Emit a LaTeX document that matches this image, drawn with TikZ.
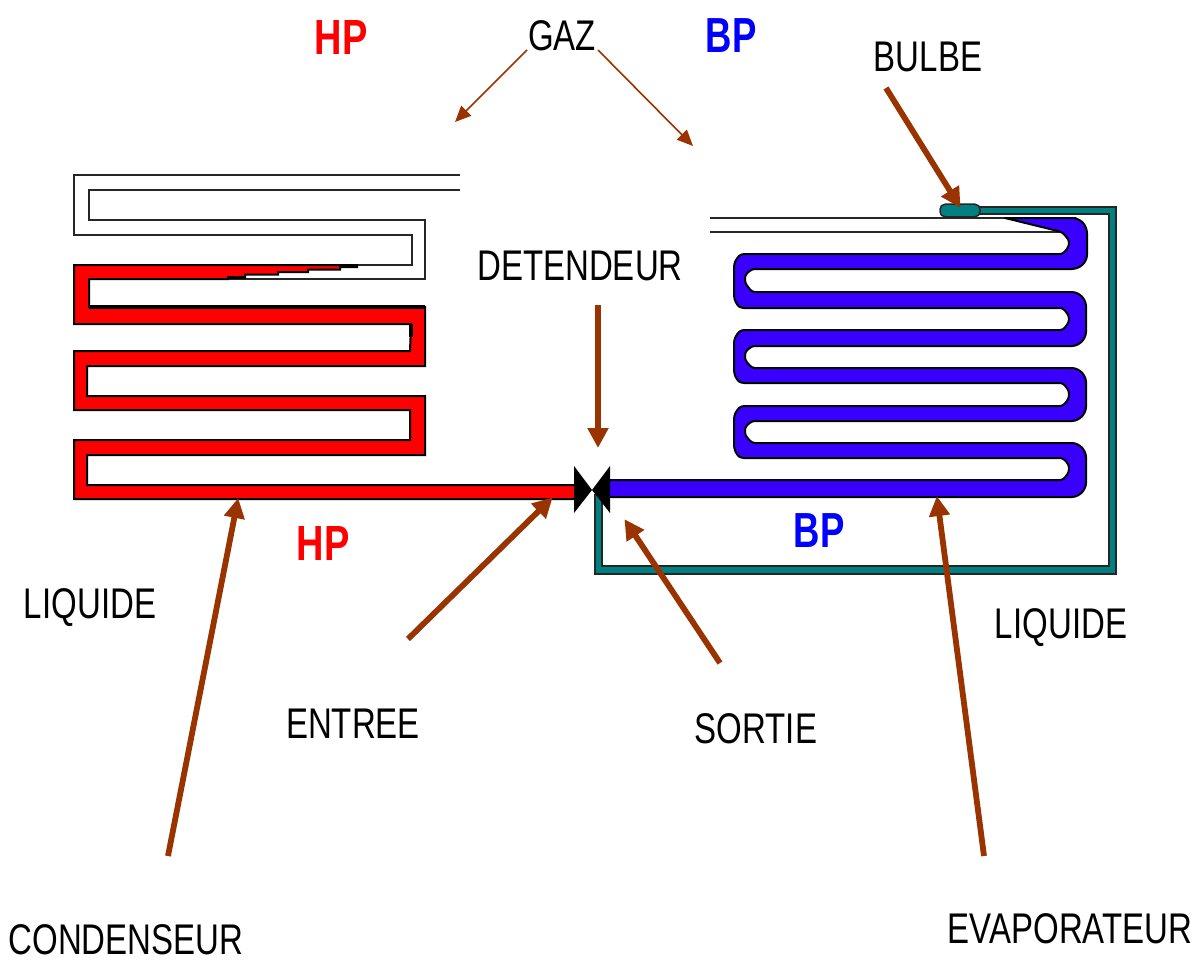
\documentclass[tikz,border=0pt]{standalone}
\usepackage{fontspec}
\setmainfont{Liberation Sans}
\usetikzlibrary{arrows.meta,shapes.geometric}
\definecolor{arrowbrown}{HTML}{993300}
\definecolor{tealpipe}{HTML}{008080}
\definecolor{bluepipe}{HTML}{3A00FF}
\definecolor{redpipe}{HTML}{FF0000}
\newcommand{\tallcaps}[1]{\scalebox{1}[1.3]{#1}}
\newcommand{\tallerblue}[1]{\scalebox{1}[1.35]{#1}}
\tikzset{
  lab/.style={inner sep=0pt,font=\fontsize{33}{36}\selectfont,text=black},
  hplab/.style={inner sep=0pt,font=\fontsize{38}{40}\selectfont,text=red},
  bplab/.style={inner sep=0pt,font=\fontsize{36.5}{40}\selectfont,text=blue},
  tube/.style={draw=black!85,line width=2pt,line join=miter},
  pipe/.style={draw=black,line width=2pt,line join=round},
  bigarrow/.style={draw=arrowbrown,line width=5.8pt,-{Triangle[length=20pt,width=20pt]},shorten >=-1pt},
  thinarrow/.style={draw=arrowbrown,line width=1.6pt,-{Triangle[length=16pt,width=14pt]}}
}
\begin{document}
\begin{tikzpicture}[x=1pt,y=-1pt]
\useasboundingbox (0,0) rectangle (1204,960);
\fill[white] (0,0) rectangle (1204,960);
% condenser: white part
\draw[tube] (460,175) -- (74,175) -- (74,235) -- (412,235) -- (412,265) -- (357,265);
\draw[tube] (460,190) -- (89,190) -- (89,220) -- (425,220) -- (425,279) -- (228,279);
% condenser: red part
\draw[pipe,fill=redpipe,line join=miter] (74,265) -- (357,265) -- (357,267) -- (340,267) -- (340,269.5) -- (308,269.5) -- (308,272) -- (278,272) -- (278,274.5) -- (245,274.5) -- (245,277) -- (228,277) -- (228,279) -- (89,279) -- (89,307) -- (425,307) -- (425,366) -- (87,366) -- (87,396) -- (425,396) -- (425,455) -- (87,455) -- (87,485) -- (576,485) -- (576,499) -- (74,499) -- (74,440) -- (410,440) -- (410,410) -- (74,410) -- (74,351) -- (410,351) -- (411,324) -- (74,324) -- cycle;
\fill[black] (89,305) rectangle (425,309);
\fill[black] (409,324) rectangle (413,337);
\fill[black] (228,275.5) rectangle (245,278.5);
\fill[black] (340,264.5) rectangle (357,268);
% capillary
\draw[pipe,draw=black!85,fill=tealpipe,line join=miter] (975,207) -- (1116,207) -- (1116,574) -- (595,574) -- (595,495) -- (602,495) -- (602,566) -- (1109,566) -- (1109,214) -- (975,214) -- cycle;
% evaporator white lines
\draw[tube] (710,218) -- (1005,218);
\draw[tube] (710,232) -- (1062,232);
% evaporator blue
\draw[pipe,fill=bluepipe,rounded corners=3pt] (608,480) -- (1063,480) -- (1069,472) -- (1069,465) -- (1063,458) -- (741,458) -- (737,455) -- (734,448) -- (734,416) -- (737,410) -- (741,406) -- (1063,406) -- (1069,398) -- (1069,391) -- (1063,383) -- (741,383) -- (737,380) -- (734,373) -- (734,340) -- (737,334) -- (741,330) -- (1063,330) -- (1069,322) -- (1069,316) -- (1063,308) -- (741,308) -- (737,305) -- (734,298) -- (734,264) -- (737,258) -- (741,254) -- (1063,254) -- (1069,246) -- (1069,240) -- (1062,232) [sharp corners] -- (1005,218) -- (1075,218) [rounded corners=3pt] -- (1083,222) -- (1087,230) -- (1087,258) -- (1083,265) -- (1075,269) -- (752,269) -- (745,275) -- (745,283) -- (752,292) -- (1075,292) -- (1082,296) -- (1086,303) -- (1086,335) -- (1082,342) -- (1075,346) -- (752,346) -- (745,352) -- (745,360) -- (752,368) -- (1075,368) -- (1082,372) -- (1086,379) -- (1086,410) -- (1082,417) -- (1075,421) -- (752,421) -- (745,427) -- (745,435) -- (752,443) -- (1075,443) -- (1082,447) -- (1086,454) -- (1086,486) -- (1082,493) -- (1075,497) -- (608,497) -- cycle;
% bulb
\node[rectangle,rounded corners=5pt,draw=black!85,fill=tealpipe,line width=1.5pt,minimum width=40pt,minimum height=12.5pt,inner sep=0pt] (bulb) at (960,210.5) {};
% valve
\fill[black] (574,466) -- (574,513) -- (592,490) -- cycle;
\fill[black] (610,466) -- (610,513) -- (592,490) -- cycle;
% labels
\node[hplab] (hp1) at (341,38) {\tallcaps{\bfseries HP}};
\node[bplab] (bp1) at (731,36) {\tallerblue{\bfseries BP}};
\node[lab] (gaz) at (562,36) {\tallcaps{GAZ}};
\node[lab] (bulbe) at (928,57) {\tallcaps{BULBE}};
\node[lab] (det) at (580,266) {\tallcaps{DETENDEUR}};
\node[hplab] (hp2) at (323,544) {\tallcaps{\bfseries HP}};
\node[bplab] (bp2) at (819,531) {\tallerblue{\bfseries BP}};
\node[lab] (liq1) at (90,608) {\tallcaps{LIQUIDE}};
\node[lab] (liq2) at (1061,628) {\tallcaps{LIQUIDE}};
\node[lab] (ent) at (353,724) {\tallcaps{ENTREE}};
\node[lab] (sor) at (756,729) {\tallcaps{SORTIE}};
\node[lab] (con) at (126,940) {\tallcaps{CONDENSEUR}};
\node[lab] (eva) at (1070,929) {\tallcaps{EVAPORATEUR}};
% arrow ends
\coordinate (g1s) at (527,50); \coordinate (g1e) at (455,122);
\coordinate (g2s) at (598,50); \coordinate (g2e) at (693,146);
\coordinate (bs) at (886,88);  \coordinate (be) at (960,207);
\coordinate (ds) at (598,305); \coordinate (de) at (598,447);
\coordinate (es) at (408,639); \coordinate (ee) at (552,498);
\coordinate (ss) at (720,663); \coordinate (se) at (625,520);
\coordinate (cs) at (168,856); \coordinate (ce) at (238,499);
\coordinate (vs) at (984,856); \coordinate (ve) at (937,497);
\draw[thinarrow] (g1s) -- (g1e);
\draw[thinarrow] (g2s) -- (g2e);
\draw[bigarrow] (bs) -- (be);
\draw[bigarrow] (ds) -- (de);
\draw[bigarrow] (es) -- (ee);
\draw[bigarrow] (ss) -- (se);
\draw[bigarrow] (cs) -- (ce);
\draw[bigarrow] (vs) -- (ve);
\end{tikzpicture}
\end{document}
